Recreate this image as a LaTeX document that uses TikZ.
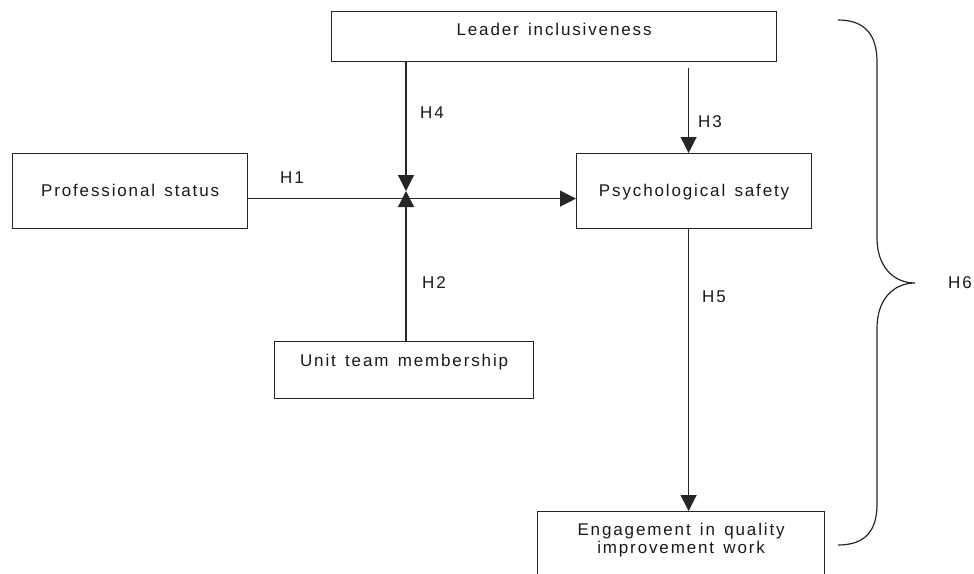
\documentclass[tikz,border=0pt]{standalone}
\usepackage{fontspec}
\setmainfont{Liberation Sans}[LetterSpace=11, WordSpace=1.4]
\usetikzlibrary{arrows.meta}

\begin{document}
\begin{tikzpicture}[x=1pt,y=-1pt]
\tikzstyle{box}=[rectangle, draw=black!85, line width=1.2pt, inner sep=0pt, anchor=north west, font=\fontsize{17}{18}\selectfont, text=black!90]
\tikzstyle{hyp}=[inner sep=0pt, font=\fontsize{17}{18}\selectfont, text=black!90]
\tikzstyle{arr}=[draw=black!85, line width=1.2pt, -{Triangle[width=16pt,length=16pt]}]
\useasboundingbox (0,0) rectangle (974,573);
\clip (0,0) rectangle (974,573);
\draw node[box, minimum width=445pt, text height=24pt, text depth=26pt] (lead) at (331,11) {Leader inclusiveness};
\draw node[box, minimum width=235pt, text height=43pt, text depth=32pt] (prof) at (12,153) {Professional status};
\draw node[box, minimum width=235pt, text height=43pt, text depth=32pt] (psych) at (576,153) {Psychological safety};
\draw node[box, minimum width=259pt, text height=25pt, text depth=32pt] (unit) at (274,341) {Unit team membership};
\draw node[box, minimum width=287pt, text height=24pt, text depth=70pt] (eng) at (537,511) {\begin{tabular}[t]{@{}c@{}}Engagement in quality\\improvement work\end{tabular}};
\coordinate (jn) at (406,191);
\draw[arr] (jn |- lead.south) to (jn);
\draw[arr] (jn |- unit.north) to (jn);
\draw[arr] ([yshift=-7.5pt]prof.east) to ([yshift=-7.5pt]psych.west);
\draw[arr, shorten <=6pt] ([xshift=-5.5pt]psych.north |- lead.south) to ([xshift=-5.5pt]psych.north);
\draw[arr] ([xshift=-5.5pt]psych.south) to ([xshift=-5.5pt]psych.south |- eng.north);
% brace for H6
\draw[draw=black!85, line width=1.2pt] (838,20) .. controls (866,20) and (877,36) .. (877,62) -- (877,238)
  .. controls (877,266) and (893,283) .. (915,283) .. controls (893,283) and (877,300) .. (877,328)
  -- (877,504) .. controls (877,530) and (866,545) .. (838,545);
\draw node[hyp] (h1) at (292,178) {H1};
\draw node[hyp] (h2) at (434,283) {H2};
\draw node[hyp] (h3) at (710,122) {H3};
\draw node[hyp] (h4) at (432,113) {H4};
\draw node[hyp] (h5) at (714,297) {H5};
\draw node[hyp] (h6) at (960,283) {H6};
\end{tikzpicture}
\end{document}
